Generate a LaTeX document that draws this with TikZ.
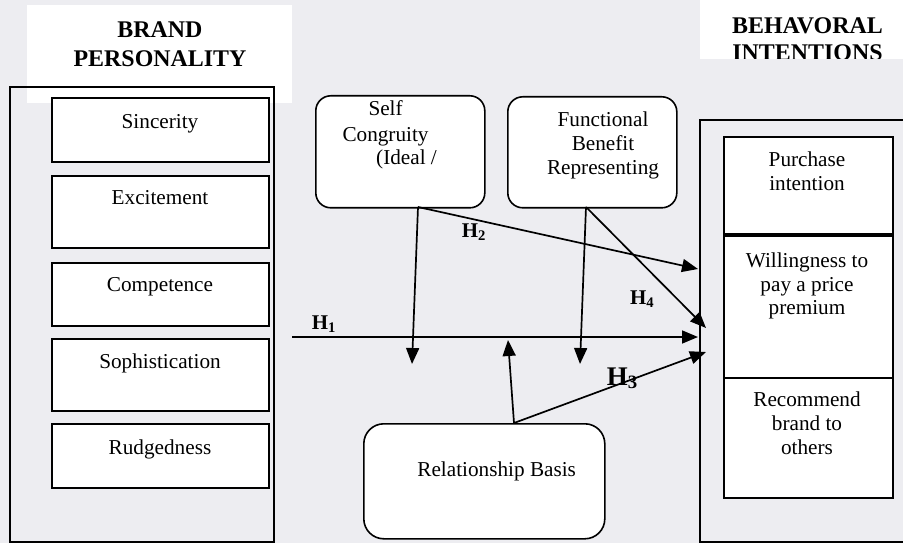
\documentclass[tikz,border=0pt]{standalone}
\usepackage{fontspec}
\setmainfont{Liberation Serif}
\usetikzlibrary{arrows.meta}
\definecolor{bgc}{HTML}{EDEDF1}
\begin{document}
\begin{tikzpicture}[x=1bp,y=-1bp,
  box/.style={draw, fill=white, line width=1.6bp, inner sep=0pt, anchor=north west},
  rbox/.style={box, rounded corners=15bp},
  txt/.style={anchor=base, inner sep=0pt, font=\fontsize{21.3}{24}\selectfont},
  txtl/.style={txt, anchor=base west},
  ttl/.style={anchor=base, inner sep=0pt, font=\fontsize{24}{28}\selectfont\bfseries},
  hl/.style={anchor=base west, inner sep=0pt, font=\fontsize{21}{24}\selectfont\bfseries},
  conn/.style={line width=1.7bp, -{Triangle[length=16bp,width=13bp]}},
  frame/.style={draw, line width=1.6bp}]
% background
\fill[bgc] (0,0) rectangle (903,543);
\useasboundingbox (0,0) rectangle (903,543);
\fill[white] (27,5) rectangle (292,103);
\fill[white] (700,0) rectangle (903,59);
% titles
\node[ttl] (t1a) at (160,38) {BRAND};
\node[ttl] (t1b) at (160,67) {PERSONALITY};
\node[ttl] (t2a) at (807.5,33.3) {BEHAVORAL};
\begin{scope}
\clip (690,0) rectangle (903,59);
\node[ttl] (t2b) at (807.5,60.7) {INTENTIONS};
\end{scope}
% outer frames
\draw[frame] (10,87) rectangle (274,542);
\draw[frame] (910,120) -- (700,120) -- (700,542) -- (910,542);
% left boxes
\node[box, minimum width=217bp, minimum height=64bp] (sinc) at (51,97) {};
\node[box, minimum width=217bp, minimum height=72bp] (exc) at (51,175) {};
\node[box, minimum width=217bp, minimum height=63bp] (comp) at (51,262) {};
\node[box, minimum width=217bp, minimum height=72bp] (soph) at (51,338) {};
\node[box, minimum width=217bp, minimum height=64bp] (rudg) at (51,423) {};
\node[txt] (sinct) at (160,128.5) {Sincerity};
\node[txt] (exct) at (160,205) {Excitement};
\node[txt] (compt) at (160,292) {Competence};
\node[txt] (sopht) at (160,368.7) {Sophistication};
\node[txt] (rudgt) at (160,454) {Rudgedness};
% right boxes
\node[box, minimum width=169bp, minimum height=97bp] (pi) at (723,136) {};
\node[box, minimum width=169bp, minimum height=141.5bp] (wtp) at (723,235.5) {};
\node[box, minimum width=169bp, minimum height=120bp] (rec) at (723,377) {};
\node[txt] (pit1) at (807,166.7) {Purchase};
\node[txt] (pit2) at (807,191) {intention};
\node[txt] (wtpt1) at (807,267.3) {Willingness to};
\node[txt] (wtpt2) at (807,291.7) {pay a price};
\node[txt] (wtpt3) at (807,315) {premium};
\node[txt] (rect1) at (807,406.7) {Recommend};
\node[txt] (rect2) at (807,430) {brand to};
\node[txt] (rect3) at (807,454) {others};
% middle rounded boxes
\node[rbox, minimum width=169bp, minimum height=112bp] (sc) at (315,95) {};
\node[rbox, minimum width=169bp, minimum height=111bp] (fb) at (507,96) {};
\node[rbox, rounded corners=20bp, minimum width=241bp, minimum height=115bp] (rb) at (363,423) {};
\node[txtl] (sct1) at (368.3,116) {Self};
\node[txtl] (sct2) at (342.3,141.7) {Congruity};
\node[txtl] (sct3) at (376,165) {(Ideal /};
\node[txt] (fbt1) at (603,126.7) {Functional};
\node[txt] (fbt2) at (603,151) {Benefit};
\node[txt] (fbt3) at (603,175) {Representing};
\node[txt] (rbt1) at (496.7,476.7) {Relationship Basis};
% connector anchor points
\coordinate (scb) at (418,207);
\coordinate (fbb) at (586,207);
\coordinate (rbt) at (514,423);
\coordinate (h1s) at (292,337);
\coordinate (h1e) at (698,337);
\coordinate (scd) at (412,364);
\coordinate (fbd) at (580,364);
\coordinate (rbu) at (508,340);
\coordinate (h2e) at (698,269);
\coordinate (h4e) at (706,328);
\coordinate (h3e) at (706,352);
% connectors
\draw[conn] (h1s) -- (h1e);
\draw[conn] (scb) -- (scd);
\draw[conn] (scb) -- (h2e);
\draw[conn] (fbb) -- (fbd);
\draw[conn] (fbb) -- (h4e);
\draw[conn] (rbt) -- (rbu);
\draw[conn] (rbt) -- (h3e);
% hypothesis labels
\node[hl] (lh1) at (311.7,329.3) {H\textsubscript{1}};
\node[hl] (lh2) at (461.7,237.3) {H\textsubscript{2}};
\node[hl] (lh4) at (630,304.3) {H\textsubscript{4}};
\node[hl, font=\fontsize{27}{30}\selectfont\bfseries] (lh3) at (606.7,385) {H\textsubscript{3}};
\end{tikzpicture}
\end{document}
